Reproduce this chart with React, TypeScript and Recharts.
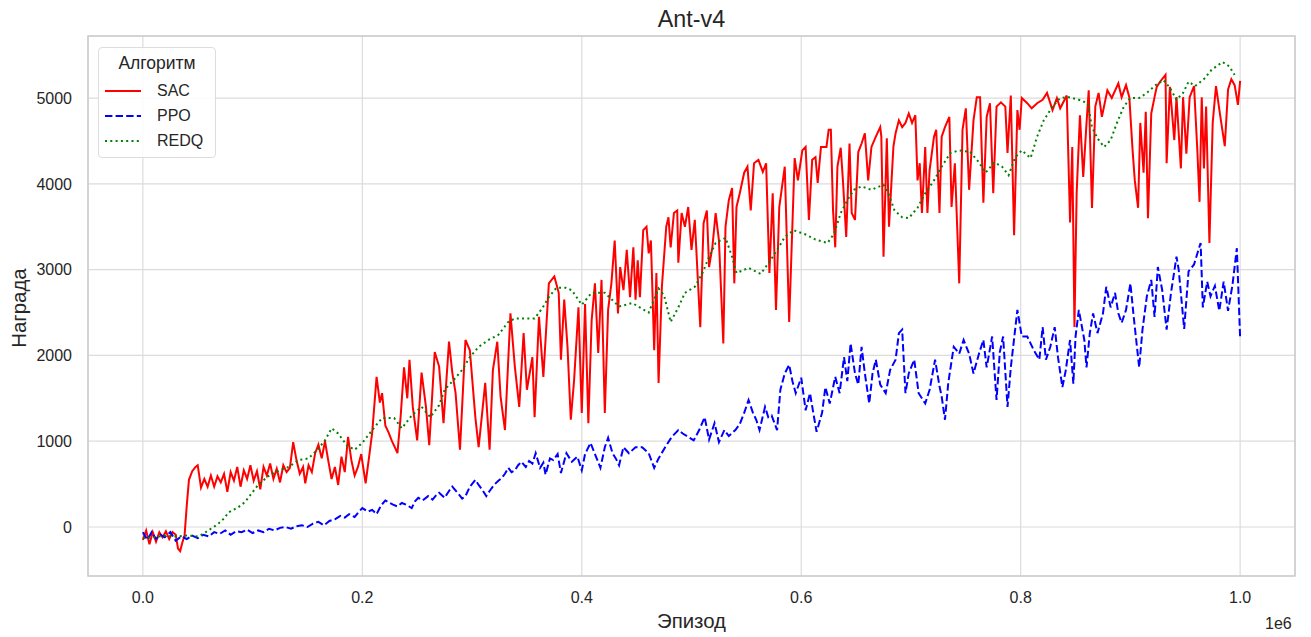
import { LineChart, Line, XAxis, YAxis, CartesianGrid, ReferenceArea } from "recharts";

// x is in units of 1e6 episodes, y is the reward
const SAC_POINTS: [number, number][] = [
  [0.000, -150], [0.003, -40], [0.006, -200], [0.009, -60], [0.012, -170], [0.015, -60], [0.018, -120],
  [0.021, -50], [0.024, -140], [0.027, -60], [0.030, -90], [0.032, -250], [0.034, -280], [0.036, -180],
  [0.038, -100], [0.040, 250], [0.042, 550], [0.045, 650], [0.048, 700], [0.050, 720], [0.053, 460],
  [0.056, 560], [0.059, 470], [0.062, 600], [0.065, 470], [0.068, 590], [0.071, 520], [0.074, 620],
  [0.077, 410], [0.080, 640], [0.083, 540], [0.086, 700], [0.089, 470], [0.092, 660], [0.095, 560],
  [0.098, 720], [0.101, 540], [0.104, 650], [0.107, 440], [0.110, 700], [0.113, 600], [0.116, 740],
  [0.119, 560], [0.122, 680], [0.125, 520], [0.128, 720], [0.131, 640], [0.134, 690], [0.137, 990],
  [0.140, 780], [0.143, 620], [0.146, 700], [0.148, 510], [0.151, 720], [0.154, 640], [0.157, 860],
  [0.160, 960], [0.163, 800], [0.166, 1000], [0.169, 770], [0.172, 560], [0.175, 700], [0.178, 490],
  [0.181, 820], [0.184, 640], [0.187, 1050], [0.190, 780], [0.193, 600], [0.196, 700], [0.199, 850],
  [0.203, 510], [0.206, 800], [0.209, 1100], [0.213, 1750], [0.216, 1450], [0.218, 1560], [0.221, 1180],
  [0.224, 1100], [0.227, 1000], [0.230, 920], [0.232, 860], [0.235, 1300], [0.238, 1860], [0.241, 1500],
  [0.243, 1950], [0.246, 1400], [0.250, 1010], [0.254, 1800], [0.258, 1400], [0.261, 955], [0.266, 2040],
  [0.270, 1870], [0.274, 1210], [0.279, 2160], [0.282, 1800], [0.285, 1560], [0.289, 900], [0.294, 2180],
  [0.298, 2060], [0.303, 1280], [0.306, 930], [0.309, 1300], [0.312, 1680], [0.316, 900], [0.319, 1830],
  [0.323, 2160], [0.326, 1520], [0.330, 1130], [0.335, 2490], [0.339, 1870], [0.343, 1400], [0.347, 2260],
  [0.350, 1600], [0.355, 1980], [0.357, 1280], [0.361, 2450], [0.365, 1750], [0.370, 2840], [0.375, 2920],
  [0.379, 2730], [0.381, 1950], [0.384, 2650], [0.387, 2100], [0.390, 1250], [0.393, 1710], [0.397, 2560],
  [0.400, 1330], [0.403, 2600], [0.406, 1210], [0.409, 2410], [0.412, 2840], [0.415, 2030], [0.418, 2880],
  [0.421, 1330], [0.424, 2530], [0.427, 2840], [0.430, 3340], [0.433, 2490], [0.435, 3030], [0.438, 2760],
  [0.441, 3230], [0.444, 2680], [0.447, 3260], [0.449, 2650], [0.451, 3110], [0.453, 2680], [0.456, 3460],
  [0.459, 3500], [0.461, 3190], [0.463, 3340], [0.466, 2060], [0.468, 2960], [0.470, 1680], [0.473, 2800],
  [0.477, 3500], [0.479, 3610], [0.481, 3260], [0.484, 3660], [0.487, 3690], [0.488, 3080], [0.491, 3660],
  [0.494, 3500], [0.497, 3730], [0.500, 3230], [0.503, 3580], [0.508, 2330], [0.511, 3540], [0.514, 3690],
  [0.516, 3030], [0.519, 3260], [0.522, 3660], [0.525, 3340], [0.529, 2140], [0.531, 3500], [0.534, 3810],
  [0.537, 3950], [0.539, 2840], [0.541, 3730], [0.544, 3890], [0.548, 4130], [0.551, 4200], [0.554, 3690],
  [0.557, 4240], [0.561, 4280], [0.565, 4140], [0.568, 4240], [0.571, 2960], [0.574, 3890], [0.577, 2530],
  [0.580, 3730], [0.585, 4200], [0.589, 2390], [0.594, 4300], [0.597, 4040], [0.601, 4390], [0.604, 4430],
  [0.607, 3580], [0.610, 4280], [0.613, 4310], [0.615, 4010], [0.618, 4430], [0.623, 4430], [0.625, 4630],
  [0.627, 4630], [0.629, 3690], [0.631, 3260], [0.633, 4200], [0.636, 4420], [0.638, 4040], [0.641, 3380],
  [0.644, 4470], [0.646, 3660], [0.649, 3580], [0.652, 4370], [0.655, 4470], [0.658, 4590], [0.661, 4040],
  [0.664, 4430], [0.668, 4550], [0.672, 4660], [0.673, 4550], [0.675, 3150], [0.678, 4530], [0.680, 3500],
  [0.684, 4430], [0.686, 4590], [0.689, 4740], [0.692, 4660], [0.695, 4710], [0.698, 4820], [0.701, 4710],
  [0.704, 4800], [0.706, 4040], [0.708, 4240], [0.710, 3660], [0.713, 4430], [0.715, 3660], [0.717, 4160],
  [0.721, 4550], [0.723, 4630], [0.726, 3660], [0.728, 4550], [0.731, 4660], [0.735, 4780], [0.737, 3730],
  [0.740, 4240], [0.744, 2840], [0.747, 4630], [0.750, 4880], [0.753, 3930], [0.757, 4740], [0.760, 5010],
  [0.763, 5010], [0.766, 3780], [0.769, 4780], [0.772, 4940], [0.775, 3890], [0.778, 4900], [0.782, 4950],
  [0.786, 4900], [0.788, 4360], [0.791, 5030], [0.794, 3400], [0.797, 4860], [0.799, 4630], [0.801, 5000],
  [0.806, 4940], [0.810, 4880], [0.815, 4940], [0.820, 4980], [0.824, 5060], [0.829, 4860], [0.833, 5000],
  [0.836, 4880], [0.842, 5030], [0.845, 3550], [0.847, 4430], [0.849, 2330], [0.851, 3890], [0.854, 4800],
  [0.857, 4080], [0.860, 4710], [0.862, 5090], [0.865, 3720], [0.868, 4900], [0.871, 5060], [0.874, 4780],
  [0.879, 5090], [0.883, 5000], [0.889, 5170], [0.892, 5010], [0.896, 5150], [0.899, 5010], [0.902, 4390],
  [0.904, 4040], [0.907, 3720], [0.909, 4710], [0.912, 4130], [0.914, 4840], [0.916, 3600], [0.919, 4820],
  [0.922, 5010], [0.924, 5130], [0.927, 5190], [0.932, 5270], [0.933, 4240], [0.936, 5130], [0.940, 4510],
  [0.942, 5010], [0.946, 4180], [0.948, 5010], [0.951, 4350], [0.954, 5010], [0.958, 5140], [0.961, 4390],
  [0.963, 3790], [0.965, 5010], [0.967, 4180], [0.969, 4900], [0.972, 3310], [0.975, 4710], [0.978, 5140],
  [0.982, 4780], [0.986, 4440], [0.989, 5100], [0.992, 5220], [0.995, 5150], [0.998, 4920], [1.000, 5200],
];

const PPO_POINTS: [number, number][] = [
  [0.000, -60], [0.004, -150], [0.008, -60], [0.012, -140], [0.016, -90], [0.020, -120], [0.025, -60],
  [0.030, -160], [0.035, -110], [0.040, -140], [0.045, -100], [0.050, -130], [0.055, -90], [0.060, -110],
  [0.065, -60], [0.070, -80], [0.075, -40], [0.080, -90], [0.085, -50], [0.090, -60], [0.095, -30],
  [0.100, -70], [0.105, -40], [0.110, -60], [0.115, -20], [0.120, -40], [0.125, -10], [0.130, 0],
  [0.135, -20], [0.140, 10], [0.145, 20], [0.150, 0], [0.155, 40], [0.160, 60], [0.165, 20], [0.170, 70],
  [0.175, 90], [0.180, 130], [0.184, 110], [0.188, 150], [0.193, 117], [0.197, 180], [0.200, 220],
  [0.205, 180], [0.209, 200], [0.213, 150], [0.217, 250], [0.221, 310], [0.225, 280], [0.228, 260],
  [0.232, 240], [0.236, 280], [0.240, 260], [0.245, 220], [0.248, 300], [0.251, 340], [0.255, 310],
  [0.260, 360], [0.264, 320], [0.268, 380], [0.270, 400], [0.275, 340], [0.279, 420], [0.282, 470],
  [0.288, 380], [0.291, 330], [0.294, 360], [0.298, 470], [0.303, 550], [0.306, 490], [0.309, 440],
  [0.313, 360], [0.316, 420], [0.320, 490], [0.324, 540], [0.327, 570], [0.330, 620], [0.333, 690],
  [0.336, 640], [0.339, 660], [0.342, 720], [0.345, 760], [0.349, 700], [0.352, 770], [0.355, 740],
  [0.358, 860], [0.362, 690], [0.365, 750], [0.367, 610], [0.371, 800], [0.374, 780], [0.378, 850],
  [0.381, 630], [0.386, 860], [0.391, 760], [0.396, 820], [0.400, 660], [0.403, 850], [0.408, 980],
  [0.412, 850], [0.417, 690], [0.421, 930], [0.424, 1040], [0.428, 860], [0.431, 800], [0.434, 720],
  [0.438, 930], [0.443, 860], [0.449, 930], [0.455, 930], [0.461, 860], [0.466, 690], [0.470, 800],
  [0.476, 930], [0.482, 1050], [0.488, 1130], [0.492, 1090], [0.497, 1050], [0.502, 1010], [0.507, 1130],
  [0.512, 1280], [0.516, 1020], [0.521, 1210], [0.525, 990], [0.530, 1130], [0.534, 1060], [0.540, 1130],
  [0.544, 1200], [0.548, 1330], [0.552, 1480], [0.556, 1330], [0.559, 1250], [0.562, 1130], [0.567, 1400],
  [0.570, 1280], [0.573, 1300], [0.578, 1130], [0.581, 1600], [0.585, 1790], [0.589, 1890], [0.592, 1700],
  [0.595, 1560], [0.600, 1740], [0.604, 1360], [0.608, 1560], [0.611, 1330], [0.614, 1110], [0.619, 1330],
  [0.622, 1630], [0.626, 1440], [0.631, 1750], [0.635, 1560], [0.639, 1980], [0.642, 1700], [0.645, 2140],
  [0.649, 1790], [0.652, 1660], [0.655, 2100], [0.658, 1790], [0.662, 1440], [0.665, 1790], [0.668, 1950],
  [0.672, 1660], [0.677, 1560], [0.681, 1830], [0.686, 1950], [0.689, 2260], [0.692, 2300], [0.695, 1560],
  [0.698, 1790], [0.703, 1950], [0.707, 1560], [0.713, 1440], [0.717, 1600], [0.722, 1950], [0.726, 1640],
  [0.728, 1520], [0.731, 1250], [0.734, 1680], [0.739, 2100], [0.744, 2020], [0.748, 2180], [0.753, 2020],
  [0.757, 1790], [0.762, 2020], [0.766, 2180], [0.769, 1860], [0.774, 2220], [0.778, 1480], [0.781, 2040],
  [0.784, 2220], [0.788, 1400], [0.791, 1860], [0.797, 2530], [0.801, 2220], [0.806, 2220], [0.812, 2060],
  [0.817, 1950], [0.820, 2330], [0.823, 1950], [0.827, 2100], [0.831, 2330], [0.834, 1980], [0.838, 1630],
  [0.841, 1820], [0.845, 2180], [0.848, 1670], [0.850, 2220], [0.853, 2530], [0.858, 2180], [0.860, 1860],
  [0.863, 2260], [0.866, 2490], [0.870, 2260], [0.875, 2490], [0.878, 2800], [0.882, 2560], [0.886, 2730],
  [0.889, 2490], [0.892, 2380], [0.896, 2530], [0.900, 2840], [0.903, 2450], [0.908, 1860], [0.911, 2300],
  [0.915, 2690], [0.919, 2880], [0.922, 2450], [0.925, 3030], [0.929, 2760], [0.933, 2300], [0.937, 2730],
  [0.942, 3150], [0.944, 3000], [0.949, 2310], [0.953, 2980], [0.958, 3060], [0.962, 3230], [0.964, 3310],
  [0.966, 2560], [0.970, 2860], [0.973, 2690], [0.977, 2810], [0.981, 2520], [0.985, 2860], [0.989, 2520],
  [0.993, 2820], [0.997, 3250], [1.000, 2200],
];

const REDQ_POINTS: [number, number][] = [
  [0.000, -130], [0.010, -120], [0.020, -100], [0.030, -110], [0.040, -100], [0.050, -110], [0.055, -80],
  [0.062, -20], [0.068, 30], [0.074, 100], [0.078, 170], [0.087, 230], [0.093, 290], [0.099, 390],
  [0.105, 490], [0.114, 590], [0.124, 660], [0.133, 700], [0.142, 780], [0.151, 800], [0.159, 900],
  [0.166, 1010], [0.172, 1150], [0.178, 1090], [0.186, 950], [0.193, 900], [0.200, 980], [0.209, 1130],
  [0.218, 1270], [0.229, 1270], [0.236, 1150], [0.245, 1300], [0.254, 1400], [0.262, 1280], [0.270, 1420],
  [0.275, 1600], [0.283, 1710], [0.291, 1830], [0.298, 1980], [0.306, 2100], [0.315, 2180], [0.324, 2240],
  [0.333, 2390], [0.339, 2430], [0.357, 2430], [0.364, 2550], [0.370, 2680], [0.377, 2790], [0.385, 2790],
  [0.391, 2760], [0.400, 2590], [0.409, 2730], [0.421, 2730], [0.434, 2570], [0.446, 2610], [0.461, 2500],
  [0.470, 2780], [0.475, 2700], [0.481, 2390], [0.488, 2560], [0.494, 2730], [0.503, 2800], [0.510, 2960],
  [0.516, 3150], [0.522, 3310], [0.531, 3370], [0.537, 3150], [0.541, 2960], [0.552, 3020], [0.563, 2950],
  [0.571, 3090], [0.578, 3230], [0.585, 3380], [0.593, 3460], [0.604, 3410], [0.613, 3350], [0.624, 3310],
  [0.630, 3420], [0.636, 3660], [0.642, 3810], [0.648, 3930], [0.655, 3970], [0.664, 3930], [0.675, 3990],
  [0.680, 3870], [0.685, 3690], [0.692, 3610], [0.698, 3600], [0.706, 3720], [0.713, 3890], [0.721, 4040],
  [0.728, 4200], [0.736, 4360], [0.744, 4390], [0.754, 4370], [0.762, 4250], [0.768, 4130], [0.776, 4250],
  [0.783, 4200], [0.789, 4100], [0.795, 4310], [0.801, 4390], [0.809, 4300], [0.815, 4550], [0.821, 4740],
  [0.829, 4900], [0.836, 5000], [0.844, 5010], [0.853, 4980], [0.861, 4940], [0.865, 4660], [0.870, 4530],
  [0.876, 4430], [0.882, 4510], [0.888, 4720], [0.894, 4900], [0.900, 5000], [0.908, 5000], [0.915, 5060],
  [0.923, 5150], [0.930, 5210], [0.936, 5120], [0.942, 4980], [0.948, 5060], [0.953, 5190], [0.959, 5140],
  [0.967, 5220], [0.974, 5330], [0.984, 5420], [0.990, 5370], [0.995, 5270],
];

const X_TICKS = [0, 0.2, 0.4, 0.6, 0.8, 1.0];
const Y_TICKS = [0, 1000, 2000, 3000, 4000, 5000];

const SERIES = [
  { name: "SAC", points: SAC_POINTS, color: "#ff0000", dash: undefined },
  { name: "PPO", points: PPO_POINTS, color: "#0000ff", dash: "7.4 3.2" },
  { name: "REDQ", points: REDQ_POINTS, color: "#008000", dash: "2 3.3" },
];

const FONT = '"Liberation Sans", Arial, sans-serif';
const TEXT = "#262626";
const GRID = "#dcdcdc";

export default function App() {
  return (
    <div style={{ position: "absolute", left: 0, top: 0, width: 1311, height: 637, background: "#fff", fontFamily: FONT }}>
      <LineChart width={1311} height={637} margin={{ top: 36, right: 16, bottom: 31, left: 28 }}>
        <CartesianGrid stroke={GRID} strokeWidth={1.2} />
        <XAxis
          type="number"
          dataKey="x"
          domain={[-0.05, 1.05]}
          ticks={X_TICKS}
          tickFormatter={(v: number) => v.toFixed(1)}
          allowDataOverflow
          height={30}
          axisLine={false}
          tickLine={false}
          tickMargin={10}
          tick={{ fontSize: 16, fill: TEXT, fontFamily: FONT }}
        />
        <YAxis
          type="number"
          domain={[-571, 5723]}
          ticks={Y_TICKS}
          allowDataOverflow
          width={60}
          axisLine={false}
          tickLine={false}
          tickMargin={10}
          tick={{ fontSize: 16, fill: TEXT, fontFamily: FONT }}
        />
        <ReferenceArea x1={-0.05} x2={1.05} y1={-571} y2={5723} fill="none" stroke="#cccccc" strokeWidth={1.5} />
        {SERIES.map((s) => (
          <Line
            key={s.name}
            data={s.points.map(([x, y]) => ({ x, y }))}
            dataKey="y"
            type="linear"
            stroke={s.color}
            strokeWidth={2}
            strokeDasharray={s.dash}
            dot={false}
            activeDot={false}
            isAnimationActive={false}
          />
        ))}
      </LineChart>

      <div style={{ position: "absolute", left: 88, width: 1207, top: 5, textAlign: "center", fontSize: 23.3, lineHeight: "28px", color: TEXT }}>
        Ant-v4
      </div>
      <div style={{ position: "absolute", left: 88, width: 1207, top: 609, textAlign: "center", fontSize: 20.4, lineHeight: "24px", color: TEXT }}>
        Эпизод
      </div>
      <div style={{ position: "absolute", left: 1265, top: 614, fontSize: 16, lineHeight: "20px", color: TEXT }}>1e6</div>
      <div
        style={{
          position: "absolute",
          left: 18.5,
          top: 308,
          transform: "translate(-50%, -50%) rotate(-90deg)",
          fontSize: 20.4,
          lineHeight: "24px",
          color: TEXT,
          whiteSpace: "nowrap",
        }}
      >
        Награда
      </div>

      <div
        style={{
          position: "absolute",
          left: 98,
          top: 47,
          width: 118,
          height: 111,
          boxSizing: "border-box",
          border: "1px solid #dddddd",
          borderRadius: 4,
          background: "rgba(255,255,255,0.85)",
          color: TEXT,
        }}
      >
        <div style={{ position: "absolute", left: 0, right: 0, top: 4, textAlign: "center", fontSize: 17.5, lineHeight: "22px" }}>Алгоритм</div>
        {SERIES.map((s, i) => (
          <div key={s.name} style={{ position: "absolute", left: 5, top: 33 + i * 25, height: 20, display: "flex", alignItems: "center" }}>
            <svg width={38} height={6} style={{ display: "block" }}>
              <line x1={1} y1={3} x2={37} y2={3} stroke={s.color} strokeWidth={2} strokeDasharray={s.dash} />
            </svg>
            <span style={{ marginLeft: 15, fontSize: 16, lineHeight: "20px" }}>{s.name}</span>
          </div>
        ))}
      </div>
    </div>
  );
}
